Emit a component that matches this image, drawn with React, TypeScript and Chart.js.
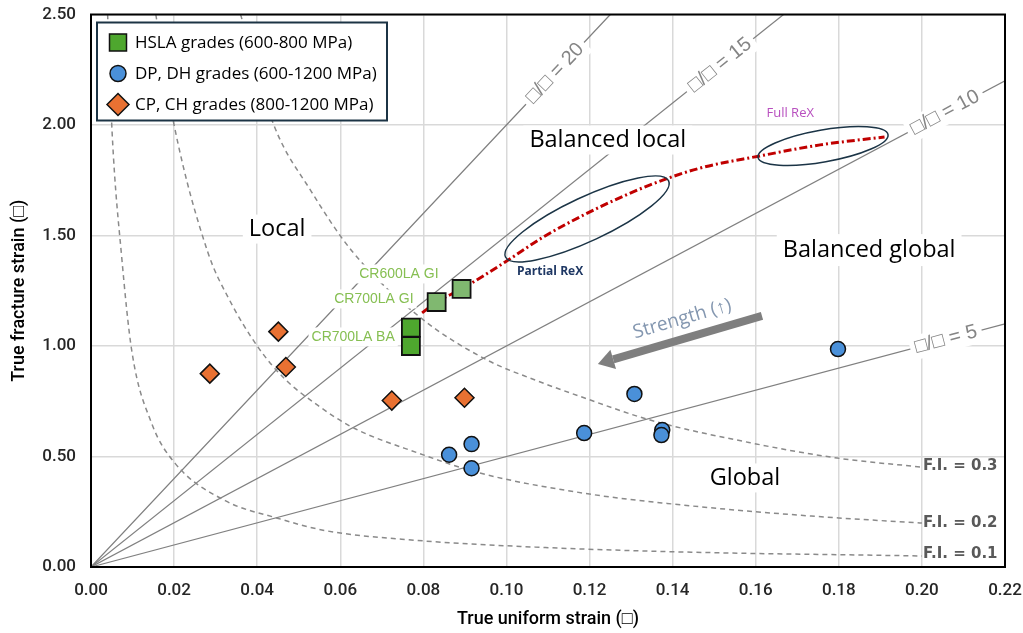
import React, { useEffect, useRef } from "react";
import { Chart, registerables } from "chart.js";

Chart.register(...registerables);

// ---------------- data ----------------
const X_MIN = 0;
const X_MAX = 0.22;
const X_STEP = 0.02;
const Y_MIN = 0;
const Y_MAX = 2.5;
const Y_STEP = 0.5;

const X_TITLE = "True uniform strain (□)";
const Y_TITLE = "True fracture strain (□)";

const LEGEND_LABELS = [
  "HSLA grades (600-800 MPa)",
  "DP, DH grades (600-1200 MPa)",
  "CP, CH grades (800-1200 MPa)",
];

// HSLA grades (squares)
const HSLA_X = [0.077, 0.077, 0.0832, 0.0892];
const HSLA_Y = [1.0, 1.083, 1.199, 1.258];
const HSLA_COLORS = ["#4ea72e", "#4ea72e", "#80b870", "#80b870"];

// DP, DH grades (circles)
const DP_X = [0.0862, 0.0916, 0.0916, 0.1187, 0.1308, 0.1375, 0.1373, 0.1798];
const DP_Y = [0.508, 0.556, 0.447, 0.606, 0.783, 0.62, 0.597, 0.986];

// CP, CH grades (diamonds)
const CP_X = [0.0286, 0.0451, 0.0469, 0.0724, 0.0899];
const CP_Y = [0.875, 1.065, 0.905, 0.753, 0.766];

// ratio lines eps_f / eps_u
const RATIOS = [5, 10, 15, 20];
const RATIO_END_X = [0.22, 0.22, 0.1667, 0.125];
const RATIO_END_Y = [1.1, 2.2, 2.5, 2.5];
const RATIO_LABEL_X = [0.2058, 0.2056, 0.1514, 0.1117];

// F.I. iso-curves
const FI_LABELS = ["F.I. = 0.1", "F.I. = 0.2", "F.I. = 0.3"];
const FI_LABEL_Y = [0.058, 0.198, 0.458];
const FI01_X = [0.004, 0.0051, 0.0074, 0.0098, 0.0146, 0.0202, 0.0323, 0.0447, 0.0563, 0.0787, 0.1069, 0.1423, 0.2];
const FI01_Y = [2.5, 1.96, 1.4, 0.98, 0.65, 0.47, 0.3, 0.222, 0.165, 0.12, 0.09, 0.068, 0.05];
const FI02_X = [0.0156, 0.02, 0.0282, 0.033, 0.0402, 0.0467, 0.0547, 0.0628, 0.0787, 0.0936, 0.12, 0.14, 0.16, 0.18, 0.2];
const FI02_Y = [2.5, 2.0, 1.42, 1.22, 0.995, 0.85, 0.73, 0.633, 0.516, 0.425, 0.33, 0.285, 0.25, 0.222, 0.199];
const FI03_X = [0.036, 0.044, 0.053, 0.0628, 0.0794, 0.0953, 0.1069, 0.118, 0.1346, 0.159, 0.1796, 0.2];
const FI03_Y = [2.5, 2.0, 1.7, 1.43, 1.127, 0.937, 0.846, 0.77, 0.665, 0.561, 0.493, 0.452];

// recrystallisation path (red dash-dot)
const REX_X = [0.0797, 0.0832, 0.0892, 0.0997, 0.1093, 0.1225, 0.1346, 0.1466, 0.161, 0.1755, 0.191];
const REX_Y = [1.15, 1.199, 1.258, 1.38, 1.498, 1.629, 1.729, 1.805, 1.86, 1.91, 1.946];

// text annotations (data coordinates)
const REGION_TEXT = ["Balanced local", "Local", "Balanced global", "Global"];
const REGION_X = [0.1244, 0.0448, 0.1873, 0.1574];
const REGION_Y = [1.932, 1.529, 1.434, 0.403];

const GRADE_TEXT = ["CR600LA GI", "CR700LA GI", "CR700LA BA"];
const GRADE_X = [0.0741, 0.0681, 0.0631];
const GRADE_Y = [1.326, 1.213, 1.041];

const REX_TEXT = ["Partial ReX", "Full ReX"];
const REX_TEXT_X = [0.1105, 0.1683];
const REX_TEXT_Y = [1.335, 2.054];
const ELLIPSE_CX = [0.1194, 0.1762];
const ELLIPSE_CY = [1.575, 1.905];

const ARROW_FROM = [0.1615, 1.136];
const ARROW_TO = [0.122, 0.919];
const ARROW_TEXT = "Strength (↑)";
const ARROW_TEXT_POS = [0.1423, 1.122];

// ---------------- helpers ----------------
const pts = (xs: number[], ys: number[]) => xs.map((x, i) => ({ x, y: ys[i] }));

const SANS = '"Open Sans", sans-serif';
const ARIAL = '"Liberation Sans", Arial, sans-serif';

function textBox(
  ctx: CanvasRenderingContext2D,
  text: string,
  cx: number,
  cy: number,
  font: string,
  color: string,
  angle = 0,
  padX = 4,
  padY = 2,
  bg: string | null = "#ffffff"
) {
  ctx.save();
  ctx.translate(cx, cy);
  ctx.rotate(angle);
  ctx.font = font;
  const m = ctx.measureText(text);
  const w = m.width;
  const h = (m.actualBoundingBoxAscent || 10) + (m.actualBoundingBoxDescent || 3);
  if (bg) {
    ctx.fillStyle = bg;
    ctx.fillRect(-w / 2 - padX, -h / 2 - padY, w + 2 * padX, h + 2 * padY);
  }
  ctx.fillStyle = color;
  ctx.textAlign = "center";
  ctx.textBaseline = "middle";
  ctx.fillText(text, 0, 0);
  ctx.restore();
}

const annotations = {
  id: "annotations",
  afterDatasetsDraw(chart: any) {
    const { ctx, chartArea } = chart;
    const xs = chart.scales.x;
    const ys = chart.scales.y;
    const px = (v: number) => xs.getPixelForValue(v);
    const py = (v: number) => ys.getPixelForValue(v);

    ctx.save();

    // ratio labels
    RATIOS.forEach((r, i) => {
      const lx = RATIO_LABEL_X[i];
      const ang = Math.atan2(py(r * 0.1) - py(0), px(0.1) - px(0));
      textBox(ctx, `□/□ = ${r}`, px(lx), py(r * lx), `20px ${ARIAL}`, "#858585", ang, 5, 3);
    });

    // region labels
    REGION_TEXT.forEach((t, i) => {
      textBox(ctx, t, px(REGION_X[i]), py(REGION_Y[i]), `23.5px ${SANS}`, "#000000", 0, 6, 4);
    });

    // grade labels
    GRADE_TEXT.forEach((t, i) => {
      textBox(ctx, t, px(GRADE_X[i]), py(GRADE_Y[i]), `14px ${ARIAL}`, "#86bf52", 0, 3, 3);
    });

    // ellipses
    ctx.strokeStyle = "#1b3446";
    ctx.lineWidth = 1.5;
    ctx.beginPath();
    ctx.ellipse(px(ELLIPSE_CX[0]), py(ELLIPSE_CY[0]), 90, 22, (-25 * Math.PI) / 180, 0, Math.PI * 2);
    ctx.stroke();
    ctx.beginPath();
    ctx.ellipse(px(ELLIPSE_CX[1]), py(ELLIPSE_CY[1]), 66, 16, (-10 * Math.PI) / 180, 0, Math.PI * 2);
    ctx.stroke();

    // ReX labels
    textBox(ctx, REX_TEXT[0], px(REX_TEXT_X[0]), py(REX_TEXT_Y[0]), `bold 12px ${SANS}`, "#1f3864", 0, 0, 0, null);
    textBox(ctx, REX_TEXT[1], px(REX_TEXT_X[1]), py(REX_TEXT_Y[1]), `13px ${SANS}`, "#b84fbf", 0, 0, 0, null);

    // strength arrow
    const x0 = px(ARROW_FROM[0]);
    const y0 = py(ARROW_FROM[1]);
    const x1 = px(ARROW_TO[0]);
    const y1 = py(ARROW_TO[1]);
    const a = Math.atan2(y1 - y0, x1 - x0);
    const headLen = 16;
    const headW = 10;
    const bx = x1 - headLen * Math.cos(a);
    const by = y1 - headLen * Math.sin(a);
    ctx.strokeStyle = "#7f7f7f";
    ctx.fillStyle = "#7f7f7f";
    ctx.lineWidth = 8;
    ctx.lineCap = "butt";
    ctx.beginPath();
    ctx.moveTo(x0, y0);
    ctx.lineTo(bx, by);
    ctx.stroke();
    ctx.beginPath();
    ctx.moveTo(x1, y1);
    ctx.lineTo(bx + headW * Math.sin(a), by - headW * Math.cos(a));
    ctx.lineTo(bx - headW * Math.sin(a), by + headW * Math.cos(a));
    ctx.closePath();
    ctx.fill();
    textBox(
      ctx,
      ARROW_TEXT,
      px(ARROW_TEXT_POS[0]),
      py(ARROW_TEXT_POS[1]),
      `19px ${SANS}`,
      "#8497b0",
      Math.atan2(y0 - y1, x0 - x1),
      0,
      0,
      null
    );

    // F.I. labels
    FI_LABELS.forEach((t, i) => {
      ctx.save();
      ctx.font = `bold 15px "DejaVu Sans", sans-serif`;
      ctx.fillStyle = "#595959";
      ctx.textAlign = "left";
      ctx.textBaseline = "middle";
      ctx.fillText(t, px(0.2) + 1, py(FI_LABEL_Y[i]));
      ctx.restore();
    });

    // plot frame
    ctx.strokeStyle = "#000000";
    ctx.lineWidth = 2;
    ctx.strokeRect(chartArea.left, chartArea.top, chartArea.right - chartArea.left, chartArea.bottom - chartArea.top);

    // legend
    const lx = chartArea.left + 6;
    const ly = chartArea.top + 8;
    const lw = 290;
    const lh = 98;
    ctx.fillStyle = "#ffffff";
    ctx.fillRect(lx, ly, lw, lh);
    ctx.strokeStyle = "#1c3445";
    ctx.lineWidth = 2;
    ctx.strokeRect(lx, ly, lw, lh);
    const rowY = [ly + 20, ly + 51, ly + 82];
    const mx = lx + 21;
    ctx.lineWidth = 1.5;
    ctx.strokeStyle = "#111111";
    // square
    ctx.fillStyle = "#4ea72e";
    ctx.fillRect(mx - 8.5, rowY[0] - 8.5, 17, 17);
    ctx.strokeRect(mx - 8.5, rowY[0] - 8.5, 17, 17);
    // circle
    ctx.fillStyle = "#4a90d9";
    ctx.beginPath();
    ctx.arc(mx, rowY[1], 8, 0, Math.PI * 2);
    ctx.fill();
    ctx.stroke();
    // diamond
    ctx.fillStyle = "#e97132";
    ctx.beginPath();
    ctx.moveTo(mx - 11, rowY[2]);
    ctx.lineTo(mx, rowY[2] - 11);
    ctx.lineTo(mx + 11, rowY[2]);
    ctx.lineTo(mx, rowY[2] + 11);
    ctx.closePath();
    ctx.fill();
    ctx.stroke();
    ctx.font = `17px ${SANS}`;
    ctx.fillStyle = "#000000";
    ctx.textAlign = "left";
    ctx.textBaseline = "middle";
    LEGEND_LABELS.forEach((t, i) => ctx.fillText(t, lx + 38, rowY[i] + 1));

    ctx.restore();
  },
};

export default function App() {
  const ref = useRef<HTMLCanvasElement | null>(null);

  useEffect(() => {
    if (!ref.current) return;
    const lineDs = (data: any[], color: string, width: number, dash: number[], order: number) => ({
      type: "scatter",
      data,
      showLine: true,
      borderColor: color,
      borderWidth: width,
      borderDash: dash,
      pointRadius: 0,
      cubicInterpolationMode: "monotone",
      fill: false,
      order,
    });

    const datasets: any[] = [
      ...RATIOS.map((r, i) =>
        lineDs(
          [
            { x: 0, y: 0 },
            { x: RATIO_END_X[i], y: RATIO_END_Y[i] },
          ],
          "#808080",
          1.2,
          [],
          20 + i
        )
      ),
      lineDs(pts(FI01_X, FI01_Y), "#8a8a8a", 1.5, [5, 4], 10),
      lineDs(pts(FI02_X, FI02_Y), "#8a8a8a", 1.5, [5, 4], 11),
      lineDs(pts(FI03_X, FI03_Y), "#8a8a8a", 1.5, [5, 4], 12),
      lineDs(pts(REX_X, REX_Y), "#c00000", 3, [8, 3, 2, 3], 5),
      {
        label: LEGEND_LABELS[0],
        data: pts(HSLA_X, HSLA_Y),
        pointStyle: "rect",
        pointRadius: 12.7,
        backgroundColor: HSLA_COLORS,
        borderColor: "#111111",
        borderWidth: 1.8,
        order: 2,
      },
      {
        label: LEGEND_LABELS[1],
        data: pts(DP_X, DP_Y),
        pointStyle: "circle",
        pointRadius: 7.5,
        backgroundColor: "#4a90d9",
        borderColor: "#111111",
        borderWidth: 1.5,
        order: 1,
      },
      {
        label: LEGEND_LABELS[2],
        data: pts(CP_X, CP_Y),
        pointStyle: "rectRot",
        pointRadius: 9.5,
        backgroundColor: "#e97132",
        borderColor: "#111111",
        borderWidth: 1.5,
        order: 0,
      },
    ];

    const tickFont = { family: "Roboto", size: 17, weight: "500" as any };
    const titleFont = { family: "Roboto", size: 18, weight: "500" as any };

    const chart = new Chart(ref.current, {
      type: "scatter",
      data: { datasets },
      options: {
        animation: false,
        responsive: true,
        maintainAspectRatio: false,
        events: [],
        layout: { padding: { top: 14, right: 18, left: 0, bottom: 0 } },
        plugins: { legend: { display: false }, tooltip: { enabled: false } },
        scales: {
          x: {
            type: "linear",
            min: X_MIN,
            max: X_MAX,
            ticks: {
              stepSize: X_STEP,
              padding: 14,
              color: "#262626",
              font: tickFont,
              maxRotation: 0,
              autoSkip: false,
              callback: (v: any) => Number(v).toFixed(2),
            },
            grid: { color: "#d9d9d9", lineWidth: 1.5, drawTicks: false },
            border: { display: false },
            title: { display: true, text: X_TITLE, color: "#000000", font: titleFont, padding: { top: 0, bottom: 3 } },
            afterFit: (s: any) => {
              s.height = 66;
              s.paddingLeft = 0;
              s.paddingRight = 0;
            },
          },
          y: {
            type: "linear",
            min: Y_MIN,
            max: Y_MAX,
            ticks: {
              stepSize: Y_STEP,
              padding: 15,
              color: "#262626",
              font: tickFont,
              callback: (v: any) => Number(v).toFixed(2),
            },
            grid: { color: "#d9d9d9", lineWidth: 1.5, drawTicks: false },
            border: { display: false },
            title: { display: true, text: Y_TITLE, color: "#000000", font: titleFont, padding: { top: 9, bottom: 0 } },
            afterFit: (s: any) => {
              s.width = 91;
              s.paddingTop = 0;
              s.paddingBottom = 0;
            },
          },
        },
      } as any,
      plugins: [annotations],
    });
    return () => chart.destroy();
  }, []);

  return (
    <div style={{ position: "fixed", left: 0, top: 0, width: 1023, height: 633, background: "#ffffff" }}>
      <canvas ref={ref} />
    </div>
  );
}
